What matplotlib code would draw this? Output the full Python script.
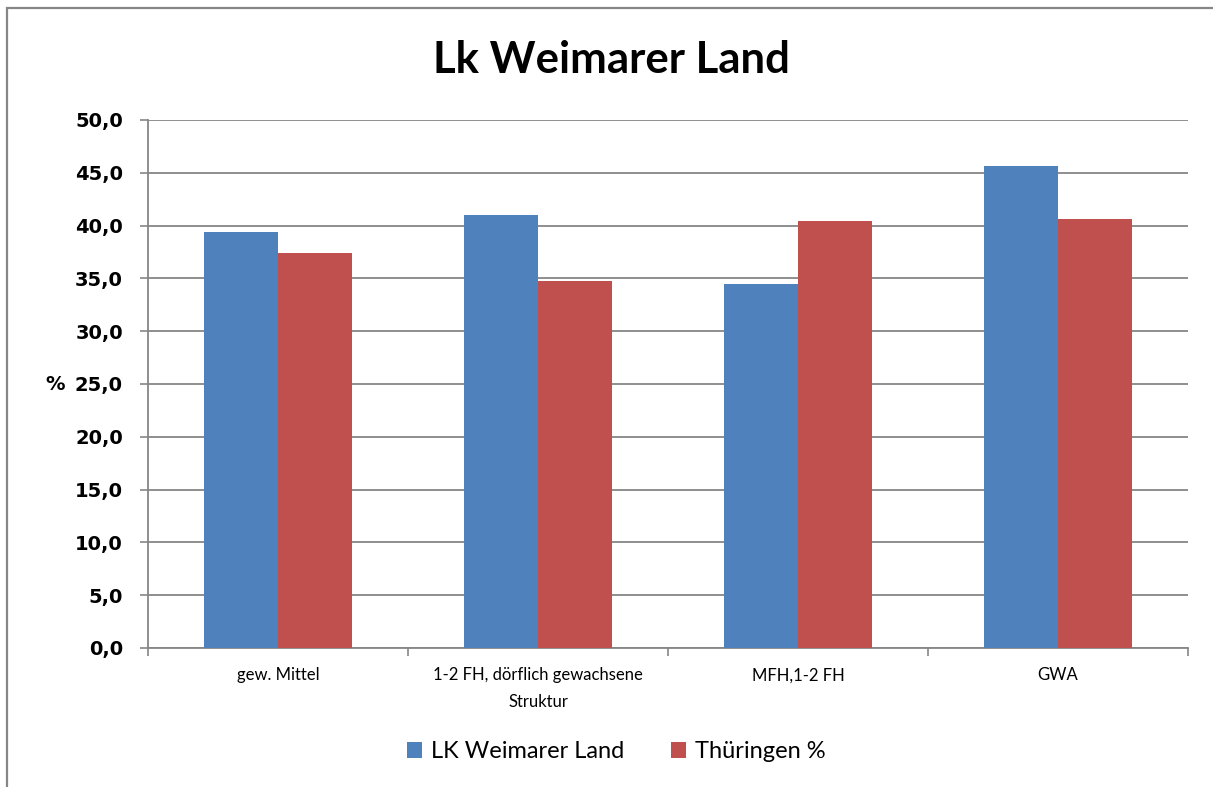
import numpy as np
import matplotlib
matplotlib.use('Agg')
import matplotlib.pyplot as plt
from matplotlib.patches import Rectangle

CATEGORIES = ['gew. Mittel', '1-2 FH, dörflich gewachsene\nStruktur', 'MFH,1-2 FH', 'GWA']
LK_WEIMARER = [39.4, 41.0, 34.5, 45.6]
THUERINGEN = [37.4, 34.8, 40.4, 40.6]
SERIES_NAMES = ['LK Weimarer Land', 'Thüringen %']
Y_TICKS = [0, 5, 10, 15, 20, 25, 30, 35, 40, 45, 50]

BLUE = '#4F81BD'
RED = '#C0504D'
GRID = '#868686'
W, H = 1213, 787


def main():
    fig = plt.figure(figsize=(W / 100, H / 100), dpi=100)
    fig.patch.set_facecolor('white')

    # outer chart frame (cut off at right and bottom like the screenshot)
    fig.add_artist(Rectangle((7 / W, -0.1), 1.2, (H - 8) / H + 0.1,
                             transform=fig.transFigure, fill=False,
                             edgecolor=GRID, linewidth=1.6))

    ax = fig.add_axes([148 / W, (H - 648) / H, (1188 - 148) / W, (648 - 120) / H])
    x = np.arange(len(CATEGORIES))
    bw = 1 / 3.5
    ax.bar(x - bw / 2, LK_WEIMARER, bw, color=BLUE, label=SERIES_NAMES[0], zorder=3)
    ax.bar(x + bw / 2, THUERINGEN, bw, color=RED, label=SERIES_NAMES[1], zorder=3)

    ax.set_xlim(-0.5, len(CATEGORIES) - 0.5)
    ax.set_ylim(0, 50)
    ax.set_yticks(Y_TICKS)
    ax.set_yticklabels([('%.1f' % v).replace('.', ',') for v in Y_TICKS],
                       fontfamily='DejaVu Sans', fontweight='bold', fontsize=14)
    ax.yaxis.grid(True, color=GRID, linewidth=1.3, zorder=0)

    # category boundaries as ticks, labels at centres
    ax.set_xticks(np.arange(-0.5, len(CATEGORIES), 1.0))
    ax.set_xticklabels([])
    ax.set_xticks(x, minor=True)
    ax.set_xticklabels(CATEGORIES, minor=True, fontfamily='Lato', fontsize=12,
                       linespacing=1.85)
    ax.tick_params(axis='x', which='minor', length=0, pad=14)
    ax.tick_params(axis='x', which='major', length=6, color=GRID, width=1.2)
    ax.tick_params(axis='y', length=6, color=GRID, width=1.2, pad=12)

    for side in ['top', 'right']:
        ax.spines[side].set_visible(False)
    for side in ['left', 'bottom']:
        ax.spines[side].set_color(GRID)
        ax.spines[side].set_linewidth(1.3)

    fig.text(55 / W, 1 - 385 / H, '%', fontfamily='DejaVu Sans', fontweight='bold',
             fontsize=14, ha='center', va='center')

    fig.text(611 / W, 1 - 60 / H, 'Lk Weimarer Land', fontfamily='Lato',
             fontweight='bold', fontsize=31.5, ha='center', va='center')

    handles, labels = ax.get_legend_handles_labels()
    fig.legend(handles, labels, loc='center', bbox_to_anchor=(0.508, 1 - 752 / H),
               ncol=2, frameon=False, prop={'family': 'Lato', 'size': 17},
               handlelength=0.65, handleheight=0.65, handletextpad=0.35,
               columnspacing=2.0)

    fig.savefig('out.png', dpi=100, facecolor='white')


if __name__ == '__main__':
    main()
